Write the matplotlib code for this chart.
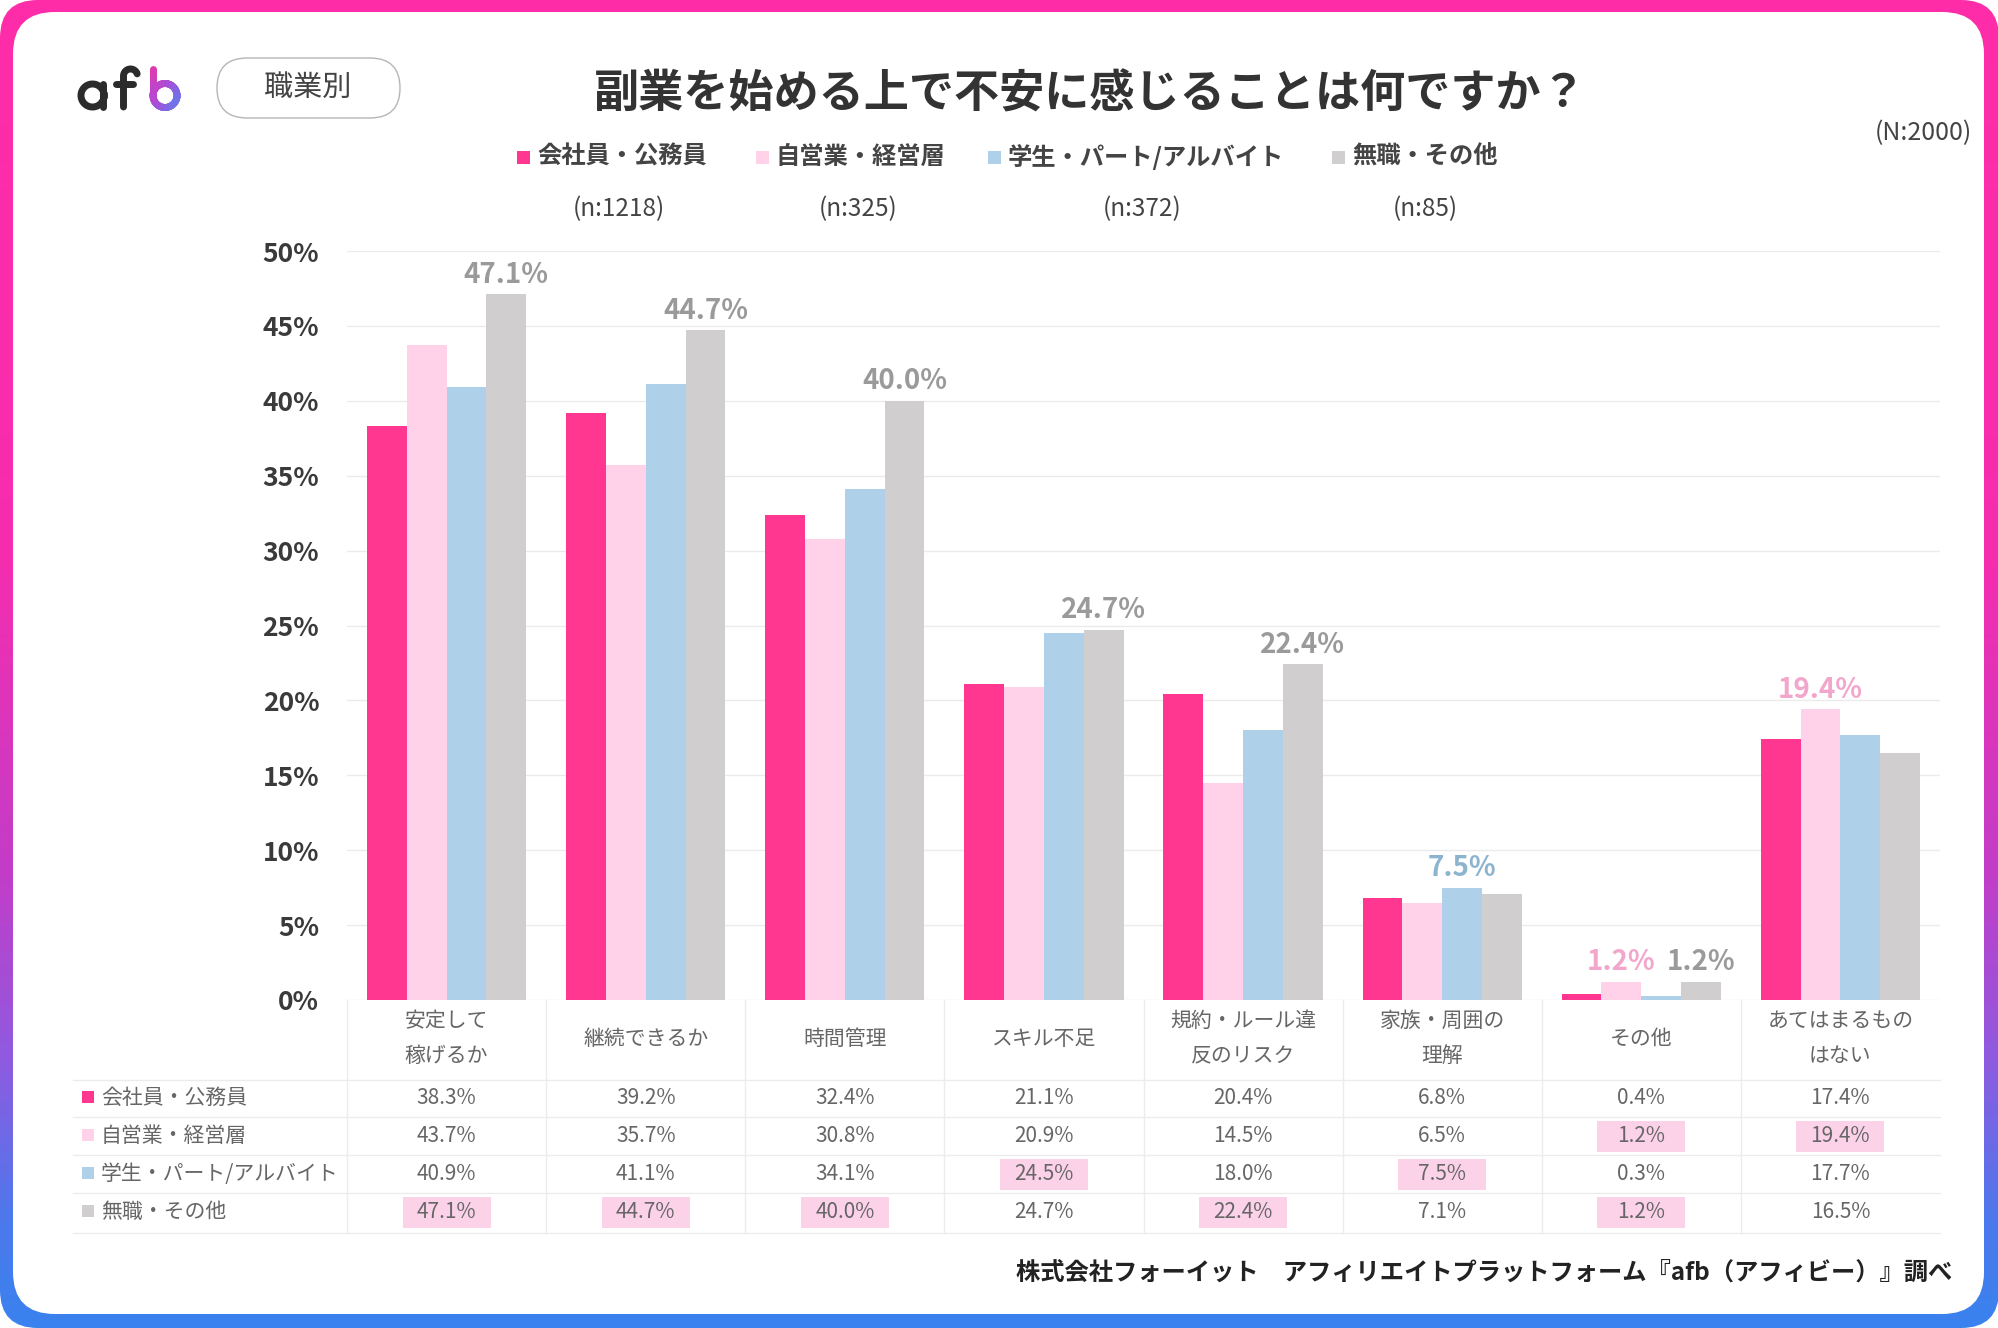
import numpy as np
import matplotlib
matplotlib.use("Agg")
import matplotlib.pyplot as plt
import matplotlib.transforms as mtransforms
from matplotlib.patches import FancyBboxPatch, Rectangle
from matplotlib.colors import LinearSegmentedColormap
from matplotlib.collections import LineCollection

plt.rcParams['font.family'] = ['Noto Sans CJK JP', 'DejaVu Sans']

TITLE = "副業を始める上で不安に感じることは何ですか？"
BADGE = "職業別"
FOOTER = "株式会社フォーイット　アフィリエイトプラットフォーム『afb（アフィビー）』調べ"
TOTAL_N = 2000

CATEGORIES = ["安定して\n稼げるか", "継続できるか", "時間管理", "スキル不足",
              "規約・ルール違\n反のリスク", "家族・周囲の\n理解", "その他",
              "あてはまるもの\nはない"]
SERIES = ["会社員・公務員", "自営業・経営層", "学生・パート/アルバイト", "無職・その他"]
SAMPLE_N = [1218, 325, 372, 85]

EMPLOYEE = [38.3, 39.2, 32.4, 21.1, 20.4, 6.8, 0.4, 17.4]
SELF_EMPLOYED = [43.7, 35.7, 30.8, 20.9, 14.5, 6.5, 1.2, 19.4]
STUDENT_PART = [40.9, 41.1, 34.1, 24.5, 18.0, 7.5, 0.3, 17.7]
UNEMPLOYED = [47.1, 44.7, 40.0, 24.7, 22.4, 7.1, 1.2, 16.5]
VALUES = [EMPLOYEE, SELF_EMPLOYED, STUDENT_PART, UNEMPLOYED]

# (series, category) cells shaded pink in the table
HIGHLIGHT = [(3, 0), (3, 1), (3, 2), (2, 3), (3, 4), (2, 5), (1, 6), (3, 6), (1, 7)]

Y_TICKS = [0, 5, 10, 15, 20, 25, 30, 35, 40, 45, 50]

BAR_COLORS = ["#FF3790", "#FFD2EA", "#AED0E8", "#D0CECF"]
LABEL_COLORS = ["#FF3790", "#F2A6CC", "#8DB4CE", "#9A9A9A"]
TEXT = "#333333"
SOFT = "#666666"

W, H = 1999, 1328
fig = plt.figure(figsize=(W / 100, H / 100), dpi=100, facecolor="white")

# background layer in pixel coordinates
bg = fig.add_axes([0, 0, 1, 1], zorder=0)
frame_cmap = LinearSegmentedColormap.from_list("frame", [
    (0.0, "#FF2CA8"), (0.42, "#F62DAF"), (0.66, "#C23DC8"),
    (0.80, "#8E5BE0"), (0.92, "#4D78EC"), (1.0, "#3A82EF")])
outer = FancyBboxPatch((0, 0), W, H, boxstyle="round,pad=0,rounding_size=38",
                       facecolor="none", edgecolor="none")
bg.add_patch(outer)
im = bg.imshow(np.linspace(0, 1, 400).reshape(-1, 1), cmap=frame_cmap,
               aspect="auto", extent=(0, W, H, 0), zorder=0)
im.set_clip_path(outer)
bg.add_patch(FancyBboxPatch((13, 12), W - 28, H - 26,
                            boxstyle="round,pad=0,rounding_size=42",
                            facecolor="white", edgecolor="none", zorder=1))
bg.set_xlim(0, W)
bg.set_ylim(H, 0)
bg.axis("off")

# logo "afb"
dark = "#2b2b2b"
t = np.linspace(0, 2 * np.pi, 120)
bg.plot(92.5 + 11.5 * np.cos(t), 95.5 + 11.5 * np.sin(t), color=dark, lw=5, zorder=3)
bg.plot([103.5, 103.5], [84, 107], color=dark, lw=5, solid_capstyle="round", zorder=3)
arc = np.linspace(np.pi, 1.9 * np.pi, 40)
fx = np.r_[123.5, 123.5, 130.5 + 7 * np.cos(arc)]
fy = np.r_[107, 76, 76 + 7 * np.sin(arc)]
bg.plot(fx, fy, color=dark, lw=5, solid_capstyle="round", zorder=3)
bg.plot([116.5, 133.5], [84, 84], color=dark, lw=5, solid_capstyle="round", zorder=3)
logo_cmap = LinearSegmentedColormap.from_list("logo", ["#F2339E", "#B24AD6", "#4C8AF3"])
bx = np.r_[np.full(30, 153.0), 165 + 12 * np.cos(np.linspace(np.pi, 3 * np.pi, 150))]
by = np.r_[np.linspace(68.5, 95.5, 30), 95.5 + 12 * np.sin(np.linspace(np.pi, 3 * np.pi, 150))]
pts = np.column_stack([bx, by])
segs = np.stack([pts[:-1], pts[1:]], axis=1)
segs = np.delete(segs, 29, axis=0)
tcol = 0.55 * (segs[:, 0, 1] - 65) / 45 + 0.45 * (segs[:, 0, 0] - 147) / 35
lc = LineCollection(segs, colors=logo_cmap(np.clip(tcol, 0, 1)), linewidths=5,
                    capstyle="round", zorder=3)
bg.add_collection(lc)

# badge
bg.add_patch(FancyBboxPatch((217, 58), 183, 60, boxstyle="round,pad=0,rounding_size=30",
                            facecolor="white", edgecolor="#b5b5b5", lw=1, zorder=3))
bg.text(308, 88, BADGE, ha="center", va="center", fontsize=21, color="#444444", zorder=4)

# title and counts
bg.text(1090, 94, TITLE, ha="center", va="center", fontsize=32.5,
        fontweight="bold", color=TEXT, zorder=4)
bg.text(1972, 133, f"(N:{TOTAL_N})", ha="right", va="center", fontsize=18,
        color="#444444", zorder=4)

legend_x = [517, 756, 988, 1332]
n_x = [619, 858, 1142, 1425]
for i, name in enumerate(SERIES):
    bg.add_patch(Rectangle((legend_x[i], 151), 13, 13, facecolor=BAR_COLORS[i],
                           edgecolor="none", zorder=3))
    bg.text(legend_x[i] + 20, 157, name, ha="left", va="center", fontsize=17.5,
            fontweight="bold", color="#444444", zorder=4)
    bg.text(n_x[i], 209, f"(n:{SAMPLE_N[i]})", ha="center", va="center",
            fontsize=17.5, color="#444444", zorder=4)

# bar chart
ax = fig.add_axes([347 / W, 1 - 1000 / H, (1940 - 347) / W, (1000 - 251) / H], zorder=2)
ax.patch.set_alpha(0)
x = np.arange(len(CATEGORIES))
width = 0.2
for i, vals in enumerate(VALUES):
    ax.bar(x + (i - 1.5) * width, vals, width, color=BAR_COLORS[i], zorder=3)

vals_arr = np.array(VALUES)
for j in range(len(CATEGORIES)):
    top = vals_arr[:, j].max()
    for i in range(len(SERIES)):
        if vals_arr[i, j] == top:
            ax.annotate(f"{vals_arr[i, j]:.1f}%", (x[j] + (i - 1.5) * width, vals_arr[i, j]),
                        xytext=(0, 4), textcoords="offset points", ha="center",
                        va="bottom", fontsize=20, fontweight="bold",
                        color=LABEL_COLORS[i], annotation_clip=False, zorder=5)

ax.set_xlim(-0.5, len(CATEGORIES) - 0.5)
ax.set_ylim(0, 50)
ax.set_yticks(Y_TICKS)
ax.set_yticklabels([f"{v}%" for v in Y_TICKS], fontsize=19, fontweight="bold",
                   color="#3a3a3a")
ax.set_xticks([])
ax.tick_params(axis="y", length=0, pad=20)
for s in ax.spines.values():
    s.set_visible(False)
ax.yaxis.grid(True, color="#ebebeb", lw=1)
ax.set_axisbelow(True)

# data table under the chart: x follows the bar axis, y in pixels
trans = mtransforms.blended_transform_factory(ax.transData, bg.transData)
line_c = "#ececec"
for yy in [1080, 1117, 1155, 1193, 1233]:
    bg.plot([73, 1940], [yy, yy], color=line_c, lw=1, zorder=2)
for k in range(len(CATEGORIES)):
    bg.plot([k - 0.5, k - 0.5], [1000, 1233], color=line_c, lw=1, zorder=2,
            transform=trans)

for j, cat in enumerate(CATEGORIES):
    lines = cat.split("\n")
    if len(lines) == 1:
        bg.text(j, 1039, lines[0], transform=trans, ha="center", va="center",
                fontsize=15, color=SOFT, zorder=4)
    else:
        for k, ln in enumerate(lines):
            bg.text(j, 1021 + 35 * k, ln, transform=trans, ha="center", va="center",
                    fontsize=15, color=SOFT, zorder=4)

row_y = [1098, 1136, 1174, 1212]
for i, name in enumerate(SERIES):
    bg.add_patch(Rectangle((82, row_y[i] - 7), 12, 12, facecolor=BAR_COLORS[i],
                           edgecolor="none", zorder=3))
    bg.text(101, row_y[i], name, ha="left", va="center", fontsize=15,
            color=SOFT, zorder=4)
    for j, v in enumerate(VALUES[i]):
        if (i, j) in HIGHLIGHT:
            bg.add_patch(Rectangle((j - 0.221, row_y[i] - 15.5), 0.442, 31,
                                   facecolor="#FCD2E9", edgecolor="none",
                                   transform=trans, zorder=3))
        bg.text(j, row_y[i], f"{v:.1f}%", transform=trans, ha="center",
                va="center", fontsize=15, color=SOFT, zorder=4)

bg.text(1952, 1273, FOOTER, ha="right", va="center", fontsize=17.5,
        fontweight="bold", color="#222222", zorder=4)

fig.savefig("out.png", dpi=100, facecolor="white")
plt.close(fig)
